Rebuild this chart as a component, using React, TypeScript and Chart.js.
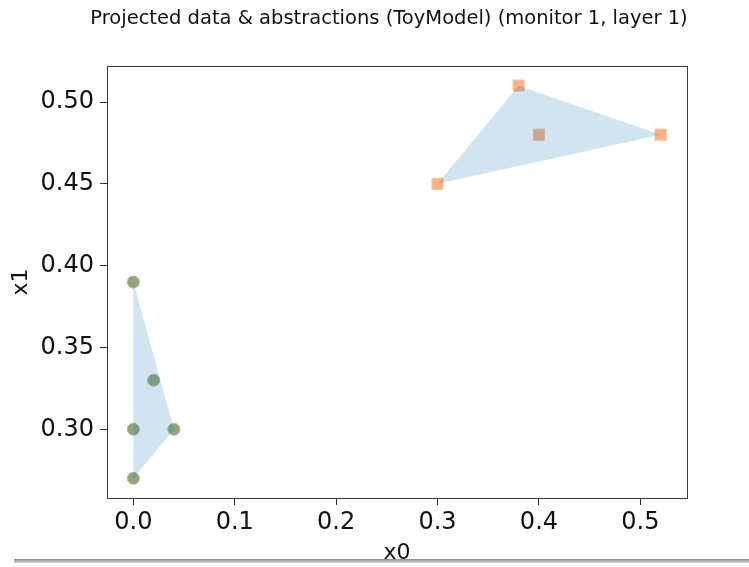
import React, { useEffect, useRef } from 'react';
import { Chart, registerables } from 'chart.js';

Chart.register(...registerables);

const titleText = 'Projected data & abstractions (ToyModel) (monitor 1, layer 1)';
const xLabel = 'x0';
const yLabel = 'x1';

// Group A (green circles)
const groupAX = [0, 0.02, 0, 0.04, 0];
const groupAY = [0.39, 0.33, 0.3, 0.3, 0.27];
// Group B (orange squares)
const groupBX = [0.38, 0.4, 0.52, 0.3];
const groupBY = [0.51, 0.48, 0.48, 0.45];
// convex hull vertex indices
const hullAIdx = [0, 3, 4, 0];
const hullBIdx = [0, 2, 3, 0];

const xTicks = [0, 0.1, 0.2, 0.3, 0.4, 0.5];
const xTickLabels = ['0.0', '0.1', '0.2', '0.3', '0.4', '0.5'];
const yTicks = [0.3, 0.35, 0.4, 0.45, 0.5];
const yTickLabels = ['0.30', '0.35', '0.40', '0.45', '0.50'];

const toPts = (xs: number[], ys: number[]) => xs.map((x, i) => ({ x, y: ys[i] }));
const hullPts = (xs: number[], ys: number[], idx: number[]) => idx.map((i) => ({ x: xs[i], y: ys[i] }));

const allX = [...groupAX, ...groupBX];
const allY = [...groupAY, ...groupBY];
const pad = (arr: number[]) => {
  const lo = Math.min(...arr);
  const hi = Math.max(...arr);
  const m = (hi - lo) * 0.05;
  return [lo - m, hi + m];
};
const [xMin, xMax] = pad(allX);
const [yMin, yMax] = pad(allY);

const FONT = "'DejaVu Sans', sans-serif";

const labelFor = (ticks: number[], labels: string[]) => (v: any) => {
  const i = ticks.findIndex((t) => Math.abs(t - Number(v)) < 1e-9);
  return i >= 0 ? labels[i] : '';
};

export default function App() {
  const ref = useRef<HTMLCanvasElement | null>(null);
  useEffect(() => {
    if (!ref.current) return;
    const framePlugin = {
      id: 'frameAndTitle',
      afterDatasetsDraw(chart: any) {
        const { ctx, chartArea: a } = chart;
        ctx.save();
        ctx.strokeStyle = '#3a3a3a';
        ctx.lineWidth = 1;
        ctx.strokeRect(Math.round(a.left) + 0.5, Math.round(a.top) + 0.5, Math.round(a.right - a.left), Math.round(a.bottom - a.top));
        ctx.restore();
      },
      afterDraw(chart: any) {
        const { ctx } = chart;
        ctx.save();
        ctx.font = `19.5px ${FONT}`;
        ctx.fillStyle = '#111';
        ctx.textAlign = 'center';
        ctx.textBaseline = 'middle';
        ctx.fillText(titleText, 389, 19);
        ctx.restore();
      },
    };
    const chart = new Chart(ref.current, {
      type: 'scatter',
      data: {
        datasets: [
          {
            data: hullPts(groupAX, groupAY, hullAIdx),
            showLine: true,
            fill: 'shape',
            backgroundColor: 'rgba(31,119,180,0.2)',
            borderColor: 'rgba(0,0,0,0)',
            borderWidth: 1,
            pointRadius: 0,
            tension: 0,
          } as any,
          {
            data: hullPts(groupBX, groupBY, hullBIdx),
            showLine: true,
            fill: 'shape',
            backgroundColor: 'rgba(31,119,180,0.2)',
            borderColor: 'rgba(0,0,0,0)',
            borderWidth: 1,
            pointRadius: 0,
            tension: 0,
          } as any,
          {
            data: toPts(groupAX, groupAY),
            pointStyle: 'circle',
            pointRadius: 6,
            backgroundColor: 'rgb(146,165,122)',
            borderColor: 'rgb(170,186,150)',
            borderWidth: 1,
          },
          {
            data: toPts(groupBX, groupBY),
            pointStyle: 'rect',
            pointRadius: 8,
            backgroundColor: 'rgb(249,177,135)',
            borderColor: 'rgb(252,200,170)',
            borderWidth: 1,
          },
        ],
      },
      options: {
        responsive: false,
        animation: false,
        events: [],
        devicePixelRatio: 1,
        layout: { padding: { left: 0, right: 62, top: 66, bottom: 0 } },
        plugins: { legend: { display: false }, tooltip: { enabled: false }, title: { display: false } },
        scales: {
          x: {
            type: 'linear',
            min: xMin,
            max: xMax,
            afterBuildTicks: (s: any) => {
              s.ticks = xTicks.map((v) => ({ value: v }));
            },
            afterFit: (s: any) => {
              s.height = 69;
            },
            grid: { display: true, drawOnChartArea: false, drawTicks: true, tickLength: 7, tickColor: '#333', tickWidth: 1 },
            border: { display: false },
            ticks: { font: { family: FONT, size: 24 }, color: '#111', padding: 3, maxRotation: 0, autoSkip: false, callback: labelFor(xTicks, xTickLabels) },
            title: { display: true, text: xLabel, font: { family: FONT, size: 22 }, color: '#111', padding: { top: 0, bottom: 1 } },
          },
          y: {
            type: 'linear',
            min: yMin,
            max: yMax,
            afterBuildTicks: (s: any) => {
              s.ticks = yTicks.map((v) => ({ value: v }));
            },
            afterFit: (s: any) => {
              s.width = 107;
            },
            grid: { display: true, drawOnChartArea: false, drawTicks: true, tickLength: 7, tickColor: '#333', tickWidth: 1 },
            border: { display: false },
            ticks: { font: { family: FONT, size: 24 }, color: '#111', padding: 6, autoSkip: false, callback: labelFor(yTicks, yTickLabels) },
            title: { display: true, text: yLabel, font: { family: FONT, size: 22 }, color: '#111', padding: { top: 8, bottom: 0 } },
          },
        },
      },
      plugins: [framePlugin],
    } as any);
    return () => chart.destroy();
  }, []);

  return (
    <div style={{ position: 'absolute', left: 0, top: 0, width: 749, height: 567, background: '#fff', overflow: 'hidden' }}>
      <canvas ref={ref} width={749} height={567} style={{ display: 'block', width: 749, height: 567 }} />
      <div style={{ position: 'absolute', left: 14, top: 559, width: 735, height: 4, background: 'linear-gradient(#8c8c8c, #d4d4d4)' }} />
      <div style={{ position: 'absolute', left: 0, top: 563, width: 749, height: 4, background: '#fff' }} />
    </div>
  );
}
